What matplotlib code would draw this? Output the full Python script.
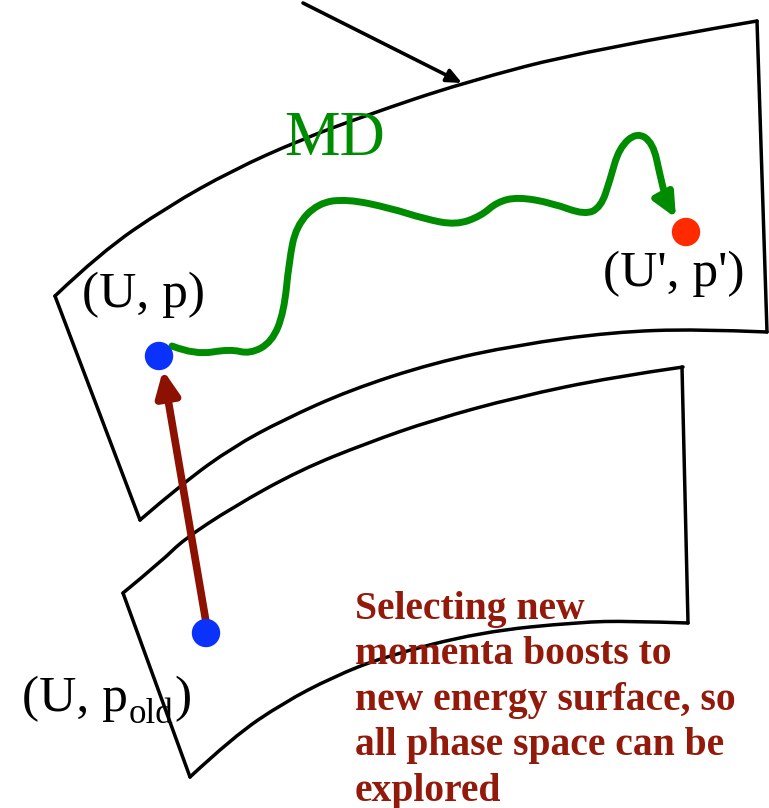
import numpy as np
import matplotlib
matplotlib.use('Agg')
import matplotlib.pyplot as plt
from matplotlib.path import Path
from matplotlib.patches import PathPatch, FancyArrowPatch, Circle

plt.rcParams['font.family'] = ['Liberation Serif', 'DejaVu Serif']

# diagram geometry, in picture pixels (y downwards)
upper_top = [(55, 296), (100, 253), (167, 207), (233, 170), (300, 140), (367, 115),
             (462, 83), (588, 50), (757, 21)]
upper_bottom = [(140, 520), (183, 483), (233, 447), (283, 420), (350, 390), (433, 363),
                (517, 345), (613, 332), (697, 329), (767, 332)]
upper_left = [(55, 296), (140, 520)]
upper_right = [(757, 21), (767, 332)]

lower_top = [(123, 593), (163, 560), (183, 540), (233, 507), (300, 470), (367, 443),
             (433, 420), (517, 397), (613, 377), (683, 367)]
lower_bottom = [(190, 777), (233, 737), (283, 703), (333, 677), (383, 657), (480, 632),
                (580, 622), (630, 621), (688, 623)]
lower_left = [(123, 593), (190, 777)]
lower_right = [(682, 367), (688, 623)]

md_path = [(172, 346), (195, 355), (230, 349), (250, 354), (272, 342), (284, 312),
           (289, 262), (296, 226), (318, 203), (347, 199), (390, 208), (425, 219),
           (456, 225), (481, 216), (497, 202), (518, 197), (552, 203), (585, 215),
           (601, 207), (610, 180), (619, 148), (637, 132), (653, 143), (660, 175),
           (666, 200), (676, 218)]

point_new = (159, 356)
point_old = (206, 633)
point_end = (686, 232)
boost = [(206, 622), (163, 370)]
pointer = [(303, 3), (462, 83)]

labels = ['(U, p)', "(U', p')", '(U, p', 'old', ')', 'MD']
note = ('Selecting new\nmomenta boosts to\nnew energy surface, so\n'
        'all phase space can be\nexplored')

GREEN = '#008c00'
DARKRED = '#8c1100'
TXTRED = '#931a0b'
BLUE = '#0a32fa'
RED = '#ff2a00'


def smooth_path(pts):
    pts = np.asarray(pts, float)
    verts = [pts[0]]
    codes = [Path.MOVETO]
    for i in range(1, len(pts) - 1):
        end = pts[i + 1] if i == len(pts) - 2 else (pts[i] + pts[i + 1]) / 2
        verts += [pts[i], end]
        codes += [Path.CURVE3, Path.CURVE3]
    return Path(verts, codes)


fig = plt.figure(figsize=(7.69, 8.08), dpi=100)
ax = fig.add_axes([0, 0, 1, 1])
ax.set_xlim(0, 769)
ax.set_ylim(808, 0)
ax.axis('off')

for edge in [upper_top, upper_bottom, lower_top, lower_bottom]:
    ax.add_patch(PathPatch(smooth_path(edge), fc='none', ec='black', lw=2.5,
                           capstyle='round'))
for edge in [upper_left, upper_right, lower_left, lower_right]:
    xs, ys = zip(*edge)
    ax.plot(xs, ys, color='black', lw=2.5, solid_capstyle='round')

# pointer arrow at top
ax.add_patch(FancyArrowPatch(pointer[0], pointer[1], shrinkA=0, shrinkB=0,
                             arrowstyle='-|>,head_length=9,head_width=4',
                             mutation_scale=1, lw=2.6, color='black'))

# MD trajectory
ax.add_patch(FancyArrowPatch(path=smooth_path(md_path),
                             arrowstyle='-|>,head_length=14,head_width=6.5',
                             mutation_scale=1, lw=5, color=GREEN,
                             capstyle='round', zorder=3))

# momentum boost
ax.add_patch(FancyArrowPatch(boost[0], boost[1], shrinkA=0, shrinkB=0,
                             arrowstyle='-|>,head_length=15,head_width=7',
                             mutation_scale=1, lw=5.5, color=DARKRED, zorder=3))

for c, col in [(point_new, BLUE), (point_old, BLUE), (point_end, RED)]:
    ax.add_patch(Circle(c, 13.5, color=col, zorder=4))

ax.text(82, 307, labels[0], fontsize=37, va='baseline', ha='left')
ax.text(603, 286, labels[1], fontsize=37, va='baseline', ha='left')
# (U, p_old) with a low subscript
ax.text(22, 711, labels[2], fontsize=37, va='baseline', ha='left')
ax.text(129, 723, labels[3], fontsize=25, va='baseline', ha='left')
ax.text(174, 711, labels[4], fontsize=37, va='baseline', ha='left')
ax.text(284, 155, labels[5], fontsize=45, color=GREEN, va='baseline', ha='left')

ax.text(355, 591, note, fontsize=28.5, fontweight='bold', color=TXTRED,
        va='top', ha='left', linespacing=1.30)

fig.savefig('out.png', dpi=100)
